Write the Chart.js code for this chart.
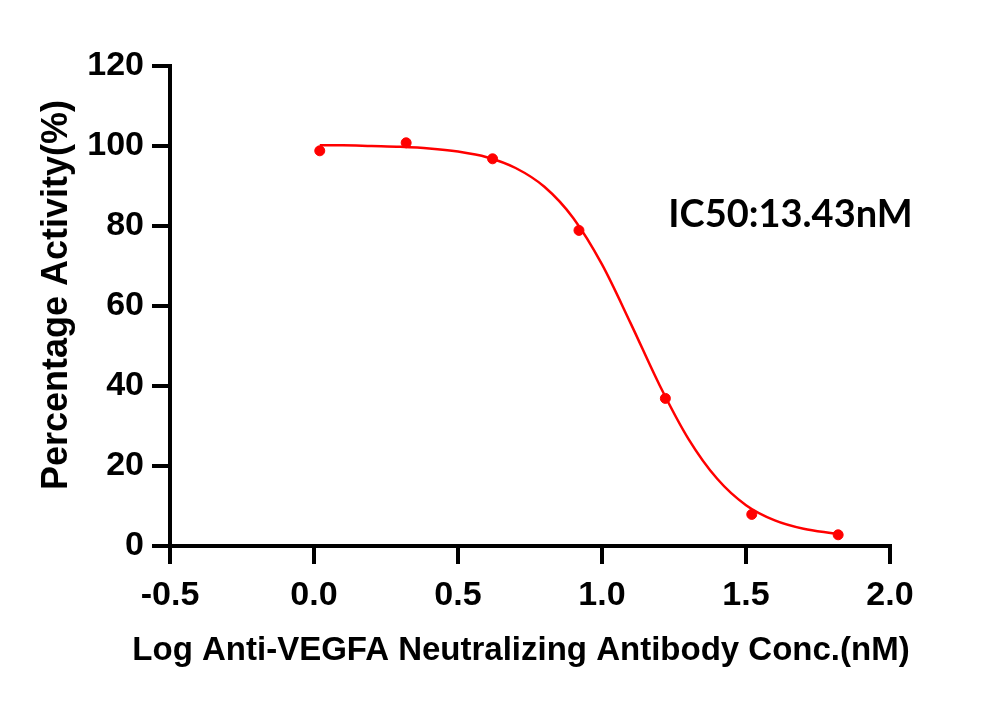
<!DOCTYPE html>
<html>
<head>
<meta charset="utf-8">
<script src="https://cdn.jsdelivr.net/npm/chart.js@4"></script>
<style>
    html, body { margin: 0; padding: 0; background: #fff; }
    #wrap { width: 1000px; height: 703px; }
</style>
</head>
<body>
<div id="wrap"><canvas id="ic50Chart" width="1000" height="703"></canvas></div>
<script>
// measured points (log conc, % activity)
const pointX = [0.02, 0.32, 0.62, 0.92, 1.22, 1.52, 1.82];
const pointY = [98.8, 100.8, 96.8, 78.9, 36.9, 7.9, 2.8];

// fitted curve
const curveX = [0.02, 0.1, 0.2, 0.3, 0.4, 0.5, 0.6, 0.7, 0.8, 0.9, 1.0, 1.1, 1.2, 1.3, 1.4, 1.5, 1.6, 1.7, 1.8, 1.82];
const curveY = [100.2, 100.2, 100.0, 99.8, 99.4, 98.6, 97.2, 94.5, 89.8, 82.0, 70.4, 55.6, 40.2, 26.8, 16.8, 10.2, 6.4, 4.3, 3.2, 3.0];

const ic50Text = 'IC50:13.43nM';
const xTitle = 'Log Anti-VEGFA Neutralizing Antibody Conc.(nM)';
const yTitle = 'Percentage Activity(%)';

const RED = '#ff0000';
const FONT = "'Liberation Sans', Arial, sans-serif";

// text drawn by hand: chart.js squeezes axis titles to the axis length
const labelsPlugin = {
    id: 'extraLabels',
    afterDraw(chart) {
        const { ctx, scales } = chart;
        ctx.save();
        ctx.fillStyle = '#000';
        ctx.textAlign = 'left';
        ctx.textBaseline = 'middle';
        ctx.font = "bold 38px Lato, 'Open Sans', sans-serif";
        ctx.fillText(ic50Text, scales.x.getPixelForValue(1.23), scales.y.getPixelForValue(82.8));

        ctx.textAlign = 'center';
        ctx.textBaseline = 'alphabetic';
        ctx.font = 'bold 33px ' + FONT;
        ctx.fillText(xTitle, 521, 660);

        ctx.font = 'bold 36px ' + FONT;
        ctx.translate(67, 295);
        ctx.rotate(-Math.PI / 2);
        ctx.fillText(yTitle, 0, 0);
        ctx.restore();
    }
};

new Chart(document.getElementById('ic50Chart'), {
    type: 'scatter',
    data: {
        datasets: [
            {
                label: 'fit',
                data: curveX.map((x, i) => ({ x, y: curveY[i] })),
                showLine: true,
                borderColor: RED,
                borderWidth: 2.5,
                pointRadius: 0,
                cubicInterpolationMode: 'monotone',
                clip: false
            },
            {
                label: 'data',
                data: pointX.map((x, i) => ({ x, y: pointY[i] })),
                showLine: false,
                backgroundColor: RED,
                borderColor: RED,
                pointRadius: 5,
                clip: false
            }
        ]
    },
    options: {
        responsive: false,
        animation: false,
        devicePixelRatio: 1,
        layout: { padding: { top: 66, right: 110, bottom: 0, left: 0 } },
        plugins: {
            legend: { display: false },
            tooltip: { enabled: false }
        },
        scales: {
            x: {
                type: 'linear',
                min: -0.5,
                max: 2.0,
                afterFit: s => { s.height = 157; },
                border: { color: '#000', width: 4 },
                grid: { drawOnChartArea: false, color: '#000', lineWidth: 4, tickLength: 18 },
                ticks: {
                    stepSize: 0.5,
                    padding: 11,
                    color: '#000',
                    font: { family: FONT, size: 34, weight: 'bold' },
                    callback: v => v.toFixed(1)
                }
            },
            y: {
                min: 0,
                max: 120,
                afterFit: s => { s.width = 170; },
                border: { color: '#000', width: 4 },
                grid: { drawOnChartArea: false, color: '#000', lineWidth: 4, tickLength: 18 },
                ticks: {
                    stepSize: 20,
                    padding: 8,
                    color: '#000',
                    font: { family: FONT, size: 34, weight: 'bold' }
                }
            }
        }
    },
    plugins: [labelsPlugin]
});
</script>
</body>
</html>
